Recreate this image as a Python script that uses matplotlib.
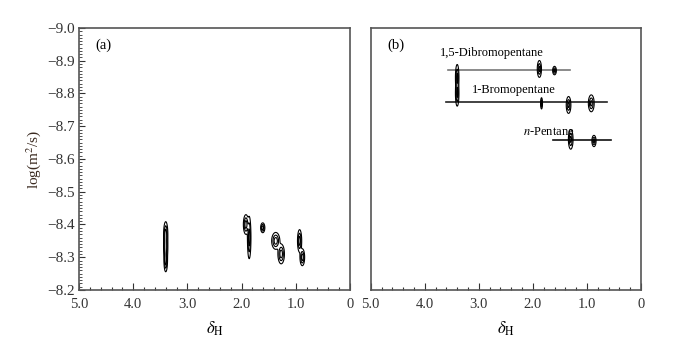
import numpy as np
import matplotlib.pyplot as plt
from matplotlib.ticker import MultipleLocator, FixedLocator

plt.rcParams['font.family'] = ['Liberation Serif', 'DejaVu Serif']
plt.rcParams['mathtext.fontset'] = 'stix'

# peak list, panel (a): shift (ppm), log D, sigma_x, sigma_y
a_shift = [3.40, 3.40, 3.40, 1.92, 1.86, 1.61, 1.37, 1.27, 0.93, 0.88]
a_logd = [-8.37, -8.33, -8.29, -8.40, -8.36, -8.39, -8.35, -8.31, -8.35, -8.30]
a_sx = [0.018, 0.018, 0.015, 0.022, 0.015, 0.018, 0.035, 0.028, 0.018, 0.02]
a_sy = [0.018, 0.018, 0.016, 0.014, 0.03, 0.007, 0.012, 0.014, 0.016, 0.012]

# peak list, panel (b)
b_shift = [3.40, 3.40, 1.88, 1.60, 1.84, 1.34, 0.92, 1.30, 0.87]
b_logd = [-8.85, -8.80, -8.875, -8.87, -8.77, -8.765, -8.77, -8.66, -8.655]
b_sx = [0.015, 0.015, 0.018, 0.016, 0.008, 0.02, 0.025, 0.02, 0.018]
b_sy = [0.018, 0.018, 0.012, 0.006, 0.008, 0.012, 0.012, 0.014, 0.008]

# horizontal component lines in (b)
comp_names = ['1,5-Dibromopentane', '1-Bromopentane', '$\\mathit{n}$-Pentane']
comp_logd = [-8.872, -8.773, -8.658]
comp_start = [3.57, 3.61, 1.62]
comp_end = [1.31, 0.62, 0.56]
comp_label_x = [2.76, 2.36, 1.70]
comp_label_y = [-8.923, -8.81, -8.683]
comp_colors = ['#777777', '#222222', '#111111']

x_ticks = [5, 4, 3, 2, 1, 0]
x_labels = ['5.0', '4.0', '3.0', '2.0', '1.0', '0']
y_ticks = [-9.0, -8.9, -8.8, -8.7, -8.6, -8.5, -8.4, -8.3, -8.2]


def spectrum(shift, logd, sx, sy):
    x = np.linspace(0, 5, 1001)
    y = np.linspace(-9.0, -8.2, 1601)
    X, Y = np.meshgrid(x, y)
    Z = np.zeros_like(X)
    for s, d, wx, wy in zip(shift, logd, sx, sy):
        Z += np.exp(-((X - s) ** 2) / (2 * wx ** 2) - ((Y - d) ** 2) / (2 * wy ** 2))
    return X, Y, Z


fig = plt.figure(figsize=(6.76, 3.48), dpi=100)
ax1 = fig.add_axes([79 / 676, 58 / 348, 271 / 676, 262 / 348])
ax2 = fig.add_axes([370.7 / 676, 58 / 348, 270.3 / 676, 262 / 348])

X, Y, Z = spectrum(a_shift, a_logd, a_sx, a_sy)
ax1.contour(X, Y, Z, levels=[0.1, 0.35, 0.7], colors='black', linewidths=0.8)

X, Y, Z = spectrum(b_shift, b_logd, b_sx, b_sy)
for name, d, x0, x1, lx, ly, c in zip(comp_names, comp_logd, comp_start, comp_end,
                                      comp_label_x, comp_label_y, comp_colors):
    ax2.plot([x0, x1], [d, d], color=c, lw=1.2)
    ax2.text(lx, ly, name, ha='center', va='center', fontsize=9)
ax2.contour(X, Y, Z, levels=[0.1, 0.4, 0.8], colors='black', linewidths=0.8)

for ax, tag in [(ax1, '(a)'), (ax2, '(b)')]:
    ax.set_xlim(5, 0)
    ax.set_ylim(-8.2, -9.0)
    ax.xaxis.set_major_locator(FixedLocator(x_ticks))
    ax.set_xticklabels(x_labels)
    ax.xaxis.set_minor_locator(MultipleLocator(0.2))
    ax.tick_params(axis='x', which='major', direction='in', length=5, width=0.8,
                   labelsize=10.5, pad=6, colors='#333333')
    ax.tick_params(axis='x', which='minor', direction='in', length=2.5, width=0.8,
                   colors='#333333')
    ax.set_xlabel('$\\delta_\\mathrm{H}$', fontsize=12, labelpad=6)
    ax.text(0.06, 0.935, tag, transform=ax.transAxes, fontsize=10.5, va='center')
    for sp in ax.spines.values():
        sp.set_color('#555555')
        sp.set_linewidth(1.2)

ax1.yaxis.set_major_locator(FixedLocator(y_ticks))
ax1.set_yticklabels(['\u2212%.1f' % abs(v) for v in y_ticks])
ax1.yaxis.set_minor_locator(MultipleLocator(0.01))
ax1.tick_params(axis='y', which='major', direction='in', length=4, width=0.8,
                labelsize=11, pad=3, colors='#333333')
ax1.tick_params(axis='y', which='minor', direction='in', length=2.5, width=0.6,
                colors='#333333')
ax1.set_ylabel('log(m$^2$/s)', fontsize=11, color='#3a2a20', labelpad=3)

ax2.set_yticks([])
ax2.yaxis.set_minor_locator(FixedLocator([]))

fig.savefig('out.png', dpi=100)
